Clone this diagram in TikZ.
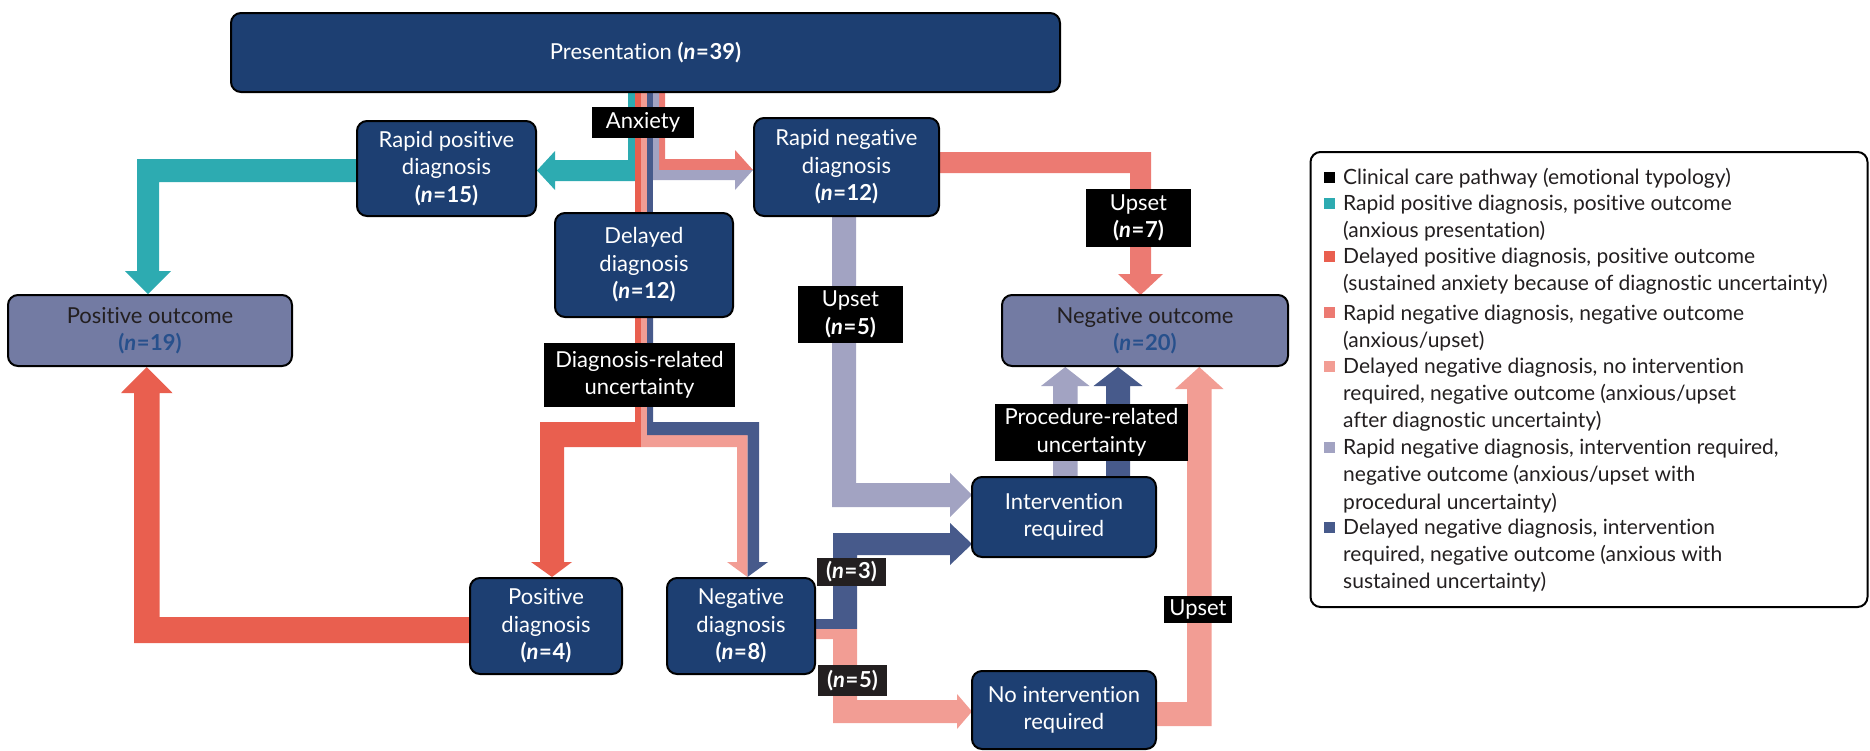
\documentclass[tikz,border=0pt]{standalone}
\usepackage{fontspec}
\setmainfont{Lato}[Ligatures=NoCommon]
\definecolor{navy}{HTML}{1D3F72}
\definecolor{nblue}{HTML}{27508C}
\definecolor{outfill}{HTML}{737BA3}
\definecolor{cteal}{HTML}{2DABB1}
\definecolor{cred}{HTML}{E95F4F}
\definecolor{csalmon}{HTML}{EC7A72}
\definecolor{cpink}{HTML}{F29D94}
\definecolor{clav}{HTML}{A2A3C2}
\definecolor{cdblue}{HTML}{475A8B}
\definecolor{ink}{HTML}{231F20}
\newcommand{\nn}[1]{\textbf{(\textit{n}\kern0.6pt=\kern0.6pt#1)}}
\begin{document}
\begin{tikzpicture}[x=1pt,y=-1pt,
 box/.style={draw=black, line width=2pt, rounded corners=10pt, fill=navy, text=white, align=center, inner sep=0pt, font=\fontsize{22}{27.5}\selectfont},
 outbox/.style={box, fill=outfill, text=ink},
 tag/.style={fill=black, text=white, align=center, inner sep=0pt, font=\fontsize{22}{27.5}\selectfont},
 ntag/.style={tag, fill=ink},
 legtext/.style={anchor=base west, inner sep=0pt, text=ink, font=\fontsize{21}{27}\selectfont},
 legmark/.style={minimum size=11pt, inner sep=0pt},
]
\useasboundingbox (0,0) rectangle (1870,750);

% ---------- bands ----------
% teal
\fill[cteal] (628,90) -- (635,90) -- (635,181) -- (555,181) -- (555,190) -- (537,170.5) -- (555,151) -- (555,160) -- (628,160) -- cycle;
\fill[cteal] (358,159) -- (358,182) -- (159,182) -- (159,271) -- (171,271) -- (148,294) -- (125,271) -- (137,271) -- (137,159) -- cycle;
% salmon / lavender from presentation
\fill[csalmon] (659,90) -- (665,90) -- (665,159) -- (735,159) -- (735,150) -- (753,170) -- (659,170) -- cycle;
\fill[clav] (653,90) -- (659,90) -- (659,170) -- (753,170) -- (735,190) -- (735,180) -- (653,180) -- cycle;
% stripes to delayed diagnosis
\fill[cred] (635,90) rectangle (641,215);
\fill[cpink] (641,90) rectangle (647,215);
\fill[cdblue] (647,90) rectangle (653,215);
% below delayed diagnosis
\fill[cred] (635,315) -- (641,315) -- (641,447) -- (564,447) -- (564,562) -- (572,562) -- (552,577) -- (531,562) -- (540,562) -- (540,422) -- (635,422) -- cycle;
\fill[cpink] (641,315) -- (647,315) -- (647,435) -- (747.5,435) -- (747.5,577) -- (727,562) -- (737,562) -- (737,447) -- (641,447) -- cycle;
\fill[cdblue] (647,315) -- (653,315) -- (653,422) -- (759,422) -- (759,562) -- (768,562) -- (747.5,577) -- (747.5,435) -- (647,435) -- cycle;
% positive diagnosis -> positive outcome
\fill[cred] (471,617) -- (471,643) -- (134,643) -- (134,393) -- (121,393) -- (146.75,367) -- (172.5,393) -- (159.5,393) -- (159.5,617) -- cycle;
% rapid negative -> negative outcome
\fill[csalmon] (938,152) -- (1151,152) -- (1151,274) -- (1163,274) -- (1140.5,295) -- (1118,274) -- (1130,274) -- (1130,173) -- (938,173) -- cycle;
% rapid negative -> intervention
\fill[clav] (832,215) -- (856,215) -- (856,483) -- (950,483) -- (950,473) -- (972,495) -- (950,517) -- (950,507) -- (832,507) -- cycle;
% negative diagnosis -> intervention
\fill[cdblue] (814,619) -- (833,619) -- (833,533) -- (950,533) -- (950,523) -- (972,544) -- (950,565) -- (950,555) -- (857,555) -- (857,629) -- (814,629) -- cycle;
% negative diagnosis -> no intervention
\fill[cpink] (814,629) -- (857,629) -- (857,700) -- (957,700) -- (957,694) -- (972,711.5) -- (957,729) -- (957,723) -- (833,723) -- (833,639) -- (814,639) -- cycle;
% no intervention -> negative outcome
\fill[cpink] (1155,702) -- (1187,702) -- (1187,389) -- (1175,389) -- (1199.25,367) -- (1223.5,389) -- (1211.5,389) -- (1211.5,726) -- (1155,726) -- cycle;
% intervention -> negative outcome
\fill[clav] (1053,478) -- (1053,386) -- (1041,386) -- (1065.25,367) -- (1089.5,386) -- (1077.5,386) -- (1077.5,478) -- cycle;
\fill[cdblue] (1106,478) -- (1106,386) -- (1093.5,386) -- (1118,367) -- (1142.5,386) -- (1130,386) -- (1130,478) -- cycle;

% ---------- nodes ----------
\node[box, minimum width=829pt, minimum height=79pt] (pres) at (645.5,52.5) {Presentation \nn{39}};
\node[box, minimum width=179pt, minimum height=95pt] (rpos) at (446.5,168.5) {Rapid positive\\diagnosis\\\nn{15}};
\node[box, minimum width=185pt, minimum height=98pt] (rneg) at (846.5,167) {Rapid negative\\diagnosis\\\nn{12}};
\node[box, minimum width=178pt, minimum height=104pt] (delay) at (644,265) {Delayed\\diagnosis\\\nn{12}};
\node[outbox, minimum width=284pt, minimum height=71pt] (posout) at (150,330.5) {Positive outcome\\{\color{nblue}\nn{19}}};
\node[outbox, minimum width=286pt, minimum height=71pt] (negout) at (1145,330.5) {Negative outcome\\{\color{nblue}\nn{20}}};
\node[box, minimum width=152pt, minimum height=96pt] (posdiag) at (546,626) {Positive\\diagnosis\\\nn{4}};
\node[box, minimum width=148pt, minimum height=96pt] (negdiag) at (741,626) {Negative\\diagnosis\\\nn{8}};
\node[box, minimum width=184pt, minimum height=80pt] (interv) at (1064,517) {Intervention\\required};
\node[box, minimum width=184pt, minimum height=78pt] (noint) at (1064,710) {No intervention\\required};

% ---------- labels ----------
\node[tag, minimum width=102pt, minimum height=31pt] (anx) at (643,122.5) {Anxiety};
\node[tag, minimum width=105pt, minimum height=58pt] (up7) at (1138.5,218) {Upset\\\nn{7}};
\node[tag, minimum width=105pt, minimum height=57pt] (up5) at (850.5,314.5) {Upset\\\nn{5}};
\node[tag, minimum width=191pt, minimum height=64pt] (dunc) at (639.5,375) {Diagnosis-related\\uncertainty};
\node[tag, minimum width=193pt, minimum height=57pt] (punc) at (1091.5,432.5) {Procedure-related\\uncertainty};
\node[tag, minimum width=68pt, minimum height=27pt] (upR) at (1198,609.5) {Upset};
\node[ntag, minimum width=69pt, minimum height=28pt] (n3) at (851.5,572) {\nn{3}};
\node[ntag, minimum width=69pt, minimum height=31pt] (n5) at (852.5,680.5) {\nn{5}};

% ---------- legend ----------
\node[draw=black, line width=2pt, rounded corners=10pt, fill=white, minimum width=557pt, minimum height=455pt, inner sep=0pt] (legend) at (1589,379.5) {};
\node[legmark, fill=black] (m1) at (1329.5,177) {};
\node[legmark, fill=cteal] (m2) at (1329.5,203) {};
\node[legmark, fill=cred] (m3) at (1329.5,256) {};
\node[legmark, fill=csalmon] (m4) at (1329.5,312) {};
\node[legmark, fill=cpink] (m5) at (1329.5,366) {};
\node[legmark, fill=clav] (m6) at (1329.5,447) {};
\node[legmark, fill=cdblue] (m7) at (1329.5,527) {};
\node[legtext] (l1) at (1343,184) {Clinical care pathway (emotional typology)};
\node[legtext] (l2) at (1343,210) {Rapid positive diagnosis, positive outcome};
\node[legtext] (l3) at (1343,237) {(anxious presentation)};
\node[legtext] (l4) at (1343,263) {Delayed positive diagnosis, positive outcome};
\node[legtext] (l5) at (1343,290) {(sustained anxiety because of diagnostic uncertainty)};
\node[legtext] (l6) at (1343,320) {Rapid negative diagnosis, negative outcome};
\node[legtext] (l7) at (1343,347) {(anxious/upset)};
\node[legtext] (l8) at (1343,373) {Delayed negative diagnosis, no intervention};
\node[legtext] (l9) at (1343,400) {required, negative outcome (anxious/upset};
\node[legtext] (l10) at (1343,427) {after diagnostic uncertainty)};
\node[legtext] (l11) at (1343,454) {Rapid negative diagnosis, intervention required,};
\node[legtext] (l12) at (1343,481) {negative outcome (anxious/upset with};
\node[legtext] (l13) at (1343,509) {procedural uncertainty)};
\node[legtext] (l14) at (1343,534) {Delayed negative diagnosis, intervention};
\node[legtext] (l15) at (1343,561) {required, negative outcome (anxious with};
\node[legtext] (l16) at (1343,588) {sustained uncertainty)};
\end{tikzpicture}
\end{document}
